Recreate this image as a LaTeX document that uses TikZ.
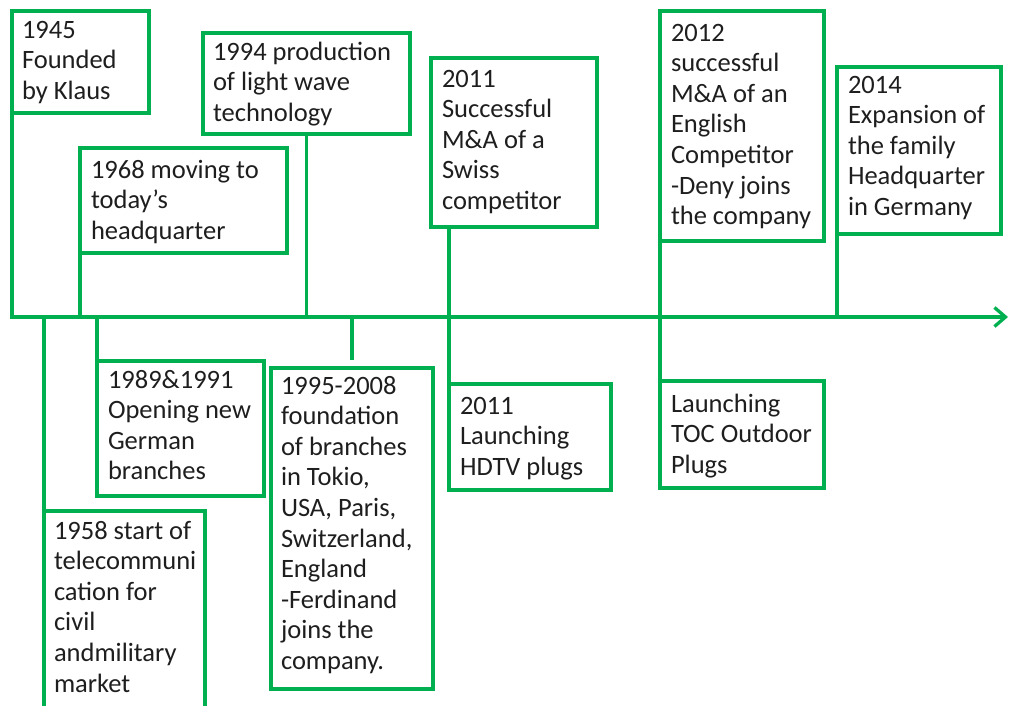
\documentclass[tikz,border=0pt]{standalone}
\usepackage{fontspec}
\setmainfont{Carlito}
\usetikzlibrary{arrows.meta}
\definecolor{tlgreen}{RGB}{0,176,80}
\definecolor{tltext}{RGB}{30,30,30}
\begin{document}
\begin{tikzpicture}[x=1pt,y=-1pt,
  evbox/.style={draw=tlgreen, line width=3.3pt, rectangle, inner sep=0pt, outer sep=0pt, anchor=north west},
  evtext/.style={anchor=north west, inner sep=0pt, outer sep=0pt, align=left, text=tltext,
    font=\fontsize{26.5}{30.6}\selectfont},
  link/.style={draw=tlgreen, line width=3.3pt},
]
\useasboundingbox (0,0) rectangle (1012,706);

% timeline reference points
\coordinate (tl) at (12,317);
\coordinate (tlend) at (1008,317);

% events above the timeline
\node[evbox, minimum width=137pt, minimum height=102pt] (b1945) at (12,11) {};
\node[evbox, minimum width=207pt, minimum height=105pt] (b1968) at (80,148) {};
\node[evbox, minimum width=207pt, minimum height=101pt] (b1994) at (203,33) {};
\node[evbox, minimum width=166pt, minimum height=169pt] (b2011a) at (431,58) {};
\node[evbox, minimum width=164pt, minimum height=230pt] (b2012) at (660,11) {};
\node[evbox, minimum width=164pt, minimum height=167pt] (b2014) at (837,67) {};

% events below the timeline
\node[evbox, minimum width=161pt, minimum height=220pt] (b1958) at (44,511) {};
\node[evbox, minimum width=167pt, minimum height=135pt] (b1989) at (97,361) {};
\node[evbox, minimum width=162pt, minimum height=321pt] (b1995) at (271,368) {};
\node[evbox, minimum width=162pt, minimum height=106pt] (b2011b) at (449,384) {};
\node[evbox, minimum width=164pt, minimum height=107pt] (btoc) at (660,381) {};

% texts
\node[evtext] (t1945) at ([xshift=10pt,yshift=-5.6pt]b1945.north west)
  {\strut 1945\\Founded\\by Klaus};
\node[evtext] (t1968) at ([xshift=11pt,yshift=-8.6pt]b1968.north west)
  {\strut 1968 moving to\\today’s\\headquarter};
\node[evtext] (t1994) at ([xshift=10pt,yshift=-5.6pt]b1994.north west)
  {\strut 1994 production\\of light wave\\technology};
\node[evtext] (t2011a) at ([xshift=11pt,yshift=-7.6pt]b2011a.north west)
  {\strut 2011\\Successful\\M\&A of a\\Swiss\\competitor};
\node[evtext] (t2012) at ([xshift=11pt,yshift=-8.6pt]b2012.north west)
  {\strut 2012\\successful\\M\&A of an\\English\\Competitor\\-Deny joins\\the company};
\node[evtext] (t2014) at ([xshift=11pt,yshift=-4.6pt]b2014.north west)
  {\strut 2014\\Expansion of\\the family\\Headquarter\\in Germany};
\node[evtext] (t1958) at ([xshift=10pt,yshift=-6.6pt]b1958.north west)
  {\strut 1958 start of\\telecommuni\\cation for\\civil\\andmilitary\\market};
\node[evtext] (t1989) at ([xshift=11pt,yshift=-5.6pt]b1989.north west)
  {\strut 1989\&1991\\Opening new\\German\\branches};
\node[evtext] (t1995) at ([xshift=10pt,yshift=-4.6pt]b1995.north west)
  {\strut 1995-2008\\foundation\\of branches\\in Tokio,\\USA, Paris,\\Switzerland,\\England\\-Ferdinand\\joins the\\company.};
\node[evtext] (t2011b) at ([xshift=11pt,yshift=-8.6pt]b2011b.north west)
  {\strut 2011\\Launching\\HDTV plugs};
\node[evtext] (ttoc) at ([xshift=11pt,yshift=-9.6pt]btoc.north west)
  {\strut Launching\\TOC Outdoor\\Plugs};

% timeline with the first event's stem
\draw[link, -{Straight Barb[length=11pt,width=19pt,line width=3.3pt]}]
  (b1945.south west) |- (tlend);

% stems from the timeline to the events
\draw[link] (b1968.south west) -- (b1968.south west |- tl);
\draw[link] (b1994.south) -- (b1994.south |- tl);
\draw[link] (b2011b.north west) -- (b2011b.north west |- b2011a.south);
\draw[link] (btoc.north west) -- (b2012.south west);
\draw[link] (b2014.south west) -- (b2014.south west |- tl);
\draw[link] (b1958.north west) -- (b1958.north west |- tl);
\draw[link] (b1989.north west) -- (b1989.north west |- tl);
\draw[link] (b1995.north |- tl) -- ([yshift=8pt]b1995.north);
\end{tikzpicture}
\end{document}
